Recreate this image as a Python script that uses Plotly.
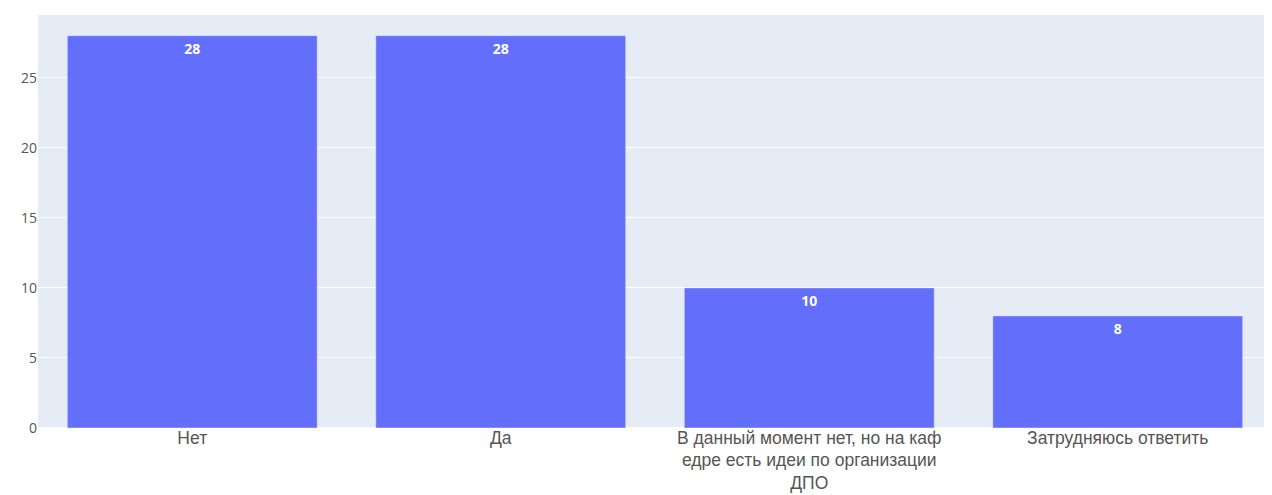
import plotly.graph_objects as go

categories = ["Нет", "Да", "В данный момент нет, но на каф<br>едре есть идеи по организации<br>ДПО", "Затрудняюсь ответить"]
values = [28, 28, 10, 8]

fig = go.Figure(go.Bar(
    x=categories, y=values,
    text=[f"<b>{v}</b>" for v in values],
    textposition="inside", insidetextanchor="end",
    textfont=dict(color="white", size=14),
    marker_color="#636efa",
))
fig.update_layout(
    template="plotly",
    width=1264, height=487,
    margin=dict(l=30, r=0, t=7, b=67),
    showlegend=False,
    bargap=0.19,
    font=dict(size=14),
)
fig.update_xaxes(automargin=False, ticklabelstandoff=-3,
                 tickfont=dict(family="Liberation Sans, Arial", size=17.5, color="#555"))
fig.update_yaxes(automargin=False, tickfont=dict(size=14, color="#555"))
fig.write_html("out.html")
